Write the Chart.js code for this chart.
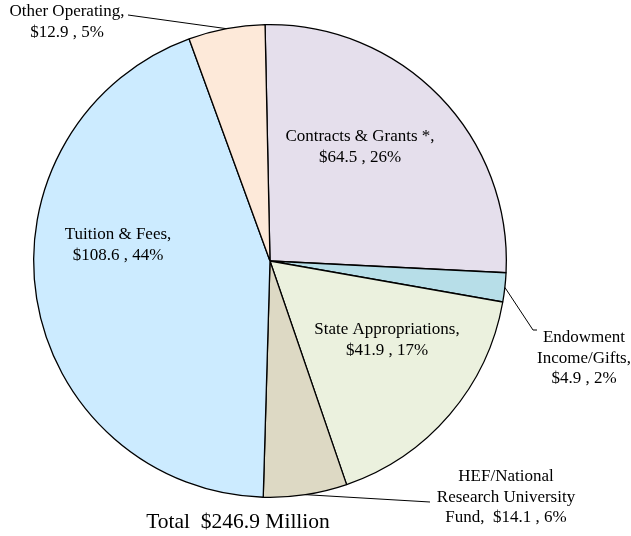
<!DOCTYPE html>
<html>
<head>
<meta charset="utf-8">
<script src="https://cdn.jsdelivr.net/npm/chart.js@4"></script>
<style>
  html, body { margin: 0; padding: 0; background: #fff; }
  #wrap { width: 631px; height: 536px; position: relative; }
</style>
</head>
<body>
<div id="wrap"><canvas id="chartPie"></canvas></div>
<script>
// --- Revenue sources (millions USD) ---
const categories = ['Contracts & Grants *', 'Endowment Income/Gifts', 'State Appropriations',
  'HEF/National Research University Fund', 'Tuition & Fees', 'Other Operating'];
const amounts = [64.5, 4.9, 41.9, 14.1, 108.6, 12.9];
const percents = [26, 2, 17, 6, 44, 5];
const sliceColors = ['#E5DFEC', '#B7DEE8', '#EBF1DE', '#DDD9C4', '#CCEBFF', '#FDE9D9'];
const totalLabel = 'Total  $246.9 Million';

// label text lines + where they go (layout only)
const labelLines = [
  ['Contracts & Grants *,', '$' + amounts[0] + ' , ' + percents[0] + '%'],
  ['Endowment', 'Income/Gifts,', '$' + amounts[1] + ' , ' + percents[1] + '%'],
  ['State Appropriations,', '$' + amounts[2] + ' , ' + percents[2] + '%'],
  ['HEF/National', 'Research University', 'Fund,  $' + amounts[3] + ' , ' + percents[3] + '%'],
  ['Tuition & Fees,', '$' + amounts[4] + ' , ' + percents[4] + '%'],
  ['Other Operating,', '$' + amounts[5] + ' , ' + percents[5] + '%']
];
const labelPos = [[360, 137], [584, 338], [387, 330], [506, 477], [118, 235], [67, 12]];
// leader lines: slice index + points toward the label
const leaders = [
  { i: 1, pts: [[537, 330], [533, 330]] },
  { i: 3, pts: [[430, 502]] },
  { i: 5, pts: [[128, 15]] }
];

const labelPlugin = {
  id: 'pieLabels',
  afterDatasetsDraw(chart) {
    const ctx = chart.ctx;
    const arcs = chart.getDatasetMeta(0).data;
    ctx.save();
    ctx.font = '17px "Liberation Serif", "Times New Roman", serif';
    ctx.fillStyle = '#000';
    ctx.textAlign = 'center';
    ctx.textBaseline = 'middle';
    labelLines.forEach((lines, i) => {
      lines.forEach((t, k) => ctx.fillText(t, labelPos[i][0], labelPos[i][1] + k * 20.5));
    });
    ctx.strokeStyle = '#000';
    ctx.lineWidth = 1;
    leaders.forEach(l => {
      const a = arcs[l.i];
      const mid = (a.startAngle + a.endAngle) / 2;
      const sx = a.x + Math.cos(mid) * a.outerRadius;
      const sy = a.y + Math.sin(mid) * a.outerRadius;
      ctx.beginPath();
      ctx.moveTo(sx, sy);
      for (let k = l.pts.length - 1; k >= 0; k--) ctx.lineTo(l.pts[k][0], l.pts[k][1]);
      ctx.stroke();
    });
    ctx.font = '21.5px "Liberation Serif", "Times New Roman", serif';
    ctx.fillText(totalLabel, 238, 522);
    ctx.restore();
  }
};

function createPieChart(canvasId) {
  const ctx = document.getElementById(canvasId).getContext('2d');
  new Chart(ctx, {
    type: 'pie',
    data: {
      labels: categories,
      datasets: [{ data: amounts, backgroundColor: sliceColors, borderColor: '#000', borderWidth: 1.3 }]
    },
    options: {
      responsive: true, maintainAspectRatio: false, animation: false,
      rotation: -1.2,
      layout: { padding: { top: 24, bottom: 38, left: 33, right: 124 } },
      plugins: { legend: { display: false }, tooltip: { enabled: false } }
    },
    plugins: [labelPlugin]
  });
}

document.addEventListener('DOMContentLoaded', () => {
  createPieChart('chartPie');
});
</script>
</body>
</html>
